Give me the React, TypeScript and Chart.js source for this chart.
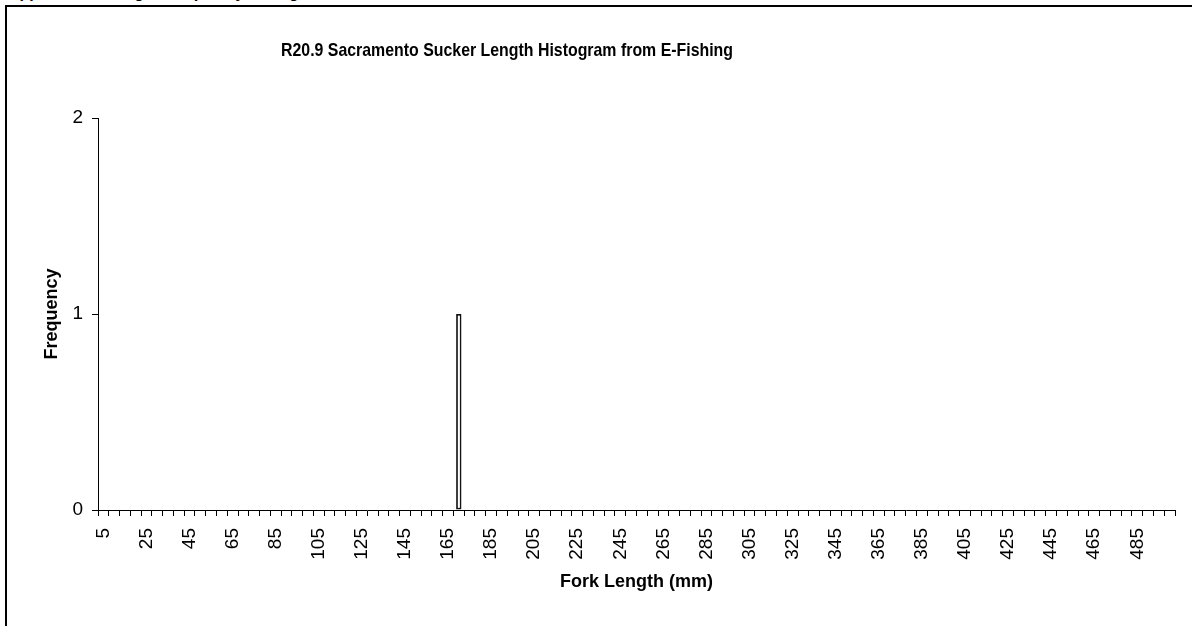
import React, { useEffect, useRef } from "react";
import { Chart, registerables } from "chart.js";

Chart.register(...registerables);

const HEADER = "Appendix R. Length Frequency Histograms";
const TITLE = "R20.9 Sacramento Sucker Length Histogram from E-Fishing";
const X_TITLE = "Fork Length (mm)";
const Y_TITLE = "Frequency";

// Fork length bins (mm)
const binLabels = [
  "5", "10", "15", "20", "25", "30", "35", "40", "45", "50",
  "55", "60", "65", "70", "75", "80", "85", "90", "95", "100",
  "105", "110", "115", "120", "125", "130", "135", "140", "145", "150",
  "155", "160", "165", "170", "175", "180", "185", "190", "195", "200",
  "205", "210", "215", "220", "225", "230", "235", "240", "245", "250",
  "255", "260", "265", "270", "275", "280", "285", "290", "295", "300",
  "305", "310", "315", "320", "325", "330", "335", "340", "345", "350",
  "355", "360", "365", "370", "375", "380", "385", "390", "395", "400",
  "405", "410", "415", "420", "425", "430", "435", "440", "445", "450",
  "455", "460", "465", "470", "475", "480", "485", "490", "495", "500",
];

// Frequency per bin
const frequency = [
  0, 0, 0, 0, 0, 0, 0, 0, 0, 0,
  0, 0, 0, 0, 0, 0, 0, 0, 0, 0,
  0, 0, 0, 0, 0, 0, 0, 0, 0, 0,
  0, 0, 0, 1, 0, 0, 0, 0, 0, 0,
  0, 0, 0, 0, 0, 0, 0, 0, 0, 0,
  0, 0, 0, 0, 0, 0, 0, 0, 0, 0,
  0, 0, 0, 0, 0, 0, 0, 0, 0, 0,
  0, 0, 0, 0, 0, 0, 0, 0, 0, 0,
  0, 0, 0, 0, 0, 0, 0, 0, 0, 0,
  0, 0, 0, 0, 0, 0, 0, 0, 0, 0,
];

const yTicks = [0, 1, 2];

const FONT = "'Liberation Sans', Arial, Helvetica, sans-serif";

const titlePlugin = {
  id: "customTitle",
  afterDraw(chart: any) {
    const ctx = chart.ctx;
    ctx.save();
    ctx.font = `bold 19px ${FONT}`;
    ctx.fillStyle = "#000";
    ctx.textAlign = "center";
    ctx.textBaseline = "alphabetic";
    const w = ctx.measureText(TITLE).width;
    const sx = Math.min(1, 452 / w);
    ctx.translate(507, 56);
    ctx.scale(sx, 1);
    ctx.fillText(TITLE, 0, 0);
    ctx.restore();
  },
};

export default function App() {
  const canvasRef = useRef<HTMLCanvasElement | null>(null);

  useEffect(() => {
    const canvas = canvasRef.current;
    if (!canvas) return;
    Chart.defaults.font.family = FONT;
    const chart = new Chart(canvas, {
      type: "bar",
      data: {
        labels: binLabels,
        datasets: [
          {
            label: "Frequency",
            data: frequency,
            backgroundColor: "#ffffff",
            borderColor: "#111111",
            borderWidth: 1.8,
            borderSkipped: false,
            barPercentage: 0.5,
            categoryPercentage: 1,
          },
        ],
      },
      options: {
        responsive: false,
        animation: false,
        devicePixelRatio: 1,
        layout: { padding: { left: 0, right: 17, top: 118, bottom: 0 } },
        plugins: {
          legend: { display: false },
          title: { display: false },
          tooltip: { enabled: false },
        },
        scales: {
          x: {
            type: "category",
            offset: true,
            afterFit: (scale: any) => {
              scale.height = 116;
              scale.paddingLeft = 0;
              scale.paddingRight = 0;
            },
            grid: {
              display: true,
              offset: true,
              drawOnChartArea: false,
              drawTicks: true,
              tickLength: 6,
              color: "#000",
              lineWidth: 1,
            },
            border: { display: true, color: "#000", width: 1 },
            ticks: {
              autoSkip: false,
              maxRotation: 90,
              minRotation: 90,
              padding: 12,
              color: "#000",
              font: { size: 19 },
              callback: (_v: any, i: number) => (i % 4 === 0 ? binLabels[i] : ""),
            },
            title: {
              display: true,
              text: X_TITLE,
              color: "#000",
              font: { size: 18, weight: "bold" },
              padding: { top: 0, bottom: 33 },
            },
          },
          y: {
            min: yTicks[0],
            max: yTicks[yTicks.length - 1],
            afterFit: (scale: any) => {
              scale.width = 98;
              scale.paddingTop = 0;
              scale.paddingBottom = 0;
            },
            afterBuildTicks: (scale: any) => {
              scale.ticks = yTicks.map((v) => ({ value: v }));
            },
            grid: {
              display: true,
              drawOnChartArea: false,
              drawTicks: true,
              tickLength: 6,
              color: "#000",
              lineWidth: 1,
            },
            border: { display: true, color: "#000", width: 1 },
            ticks: {
              padding: 9,
              color: "#000",
              font: { size: 19 },
              stepSize: 1,
            },
            title: {
              display: true,
              text: Y_TITLE,
              color: "#000",
              font: { size: 18, weight: "bold" },
              padding: { top: 41, bottom: 0 },
            },
          },
        },
      },
      plugins: [titlePlugin],
    });
    return () => chart.destroy();
  }, []);

  return (
    <div
      style={{
        position: "fixed",
        left: 0,
        top: 0,
        width: 1192,
        height: 626,
        overflow: "hidden",
        background: "#fff",
      }}
    >
      <div
        style={{
          position: "absolute",
          left: 8,
          top: -16,
          font: `bold 16px ${FONT}`,
          lineHeight: "18px",
          whiteSpace: "nowrap",
          color: "#000",
        }}
      >
        {HEADER}
      </div>
      <div
        style={{
          position: "absolute",
          left: 5,
          top: 5,
          width: 1400,
          height: 1000,
          border: "2px solid #000",
          boxSizing: "border-box",
        }}
      />
      <canvas
        ref={canvasRef}
        width={1192}
        height={626}
        style={{ position: "absolute", left: 0, top: 0, width: 1192, height: 626 }}
      />
    </div>
  );
}
